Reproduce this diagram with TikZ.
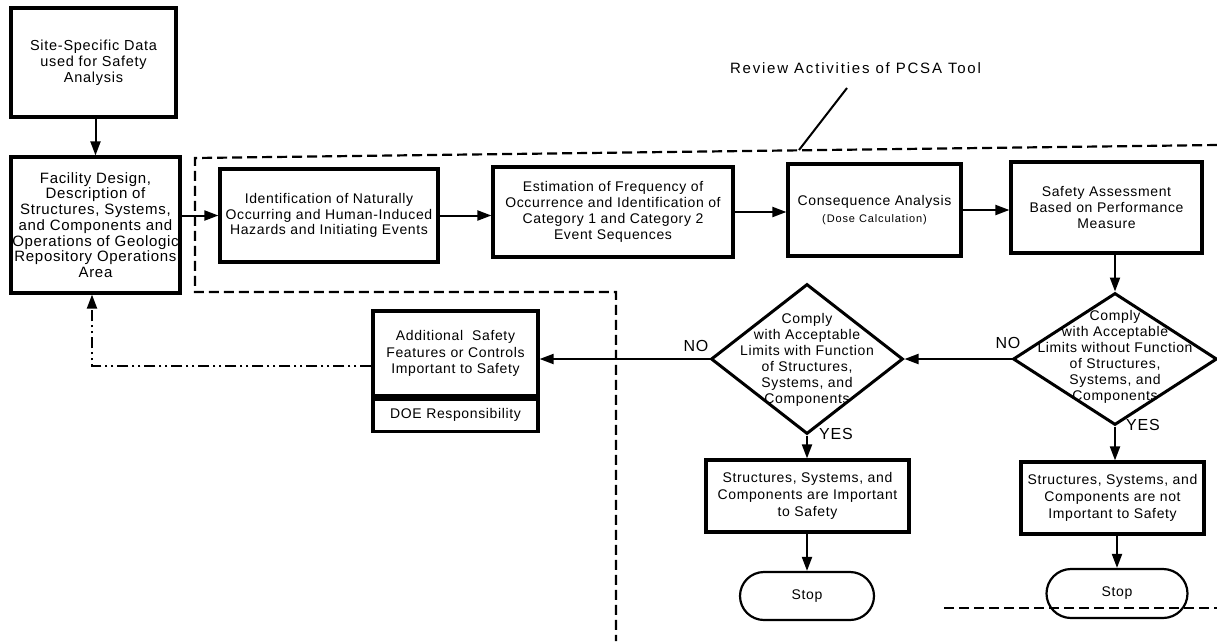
\documentclass[tikz,border=0pt]{standalone}
\usepackage{fontspec}
\setmainfont{Liberation Sans}[LetterSpace=4.5]
\usetikzlibrary{arrows.meta,shapes.geometric,shapes.misc}

\begin{document}
\begin{tikzpicture}[x=1pt,y=-1pt,
  every node/.style={font=\fontsize{14}{16}\selectfont, align=center, inner sep=1pt},
  box/.style={draw, line width=3.2pt, rectangle},
  decision/.style={draw, line width=3pt, diamond, inner sep=0pt},
  terminal/.style={draw, line width=2.2pt, rounded rectangle},
  tag/.style={font=\fontsize{16}{18}\selectfont\addfontfeature{LetterSpace=5}},
  flow/.style={line width=2pt, -{Triangle[length=14pt,width=10pt]}},
  review/.style={line width=2.2pt, dash pattern=on 10pt off 5pt},
  feedback/.style={line width=2pt, dash pattern=on 11pt off 4pt on 2pt off 4pt on 2pt off 4pt,
                   -{Triangle[length=14pt,width=10pt]}}]

\useasboundingbox (0,0) rectangle (1217,641);

% boundary of the PCSA review activities
\draw[review] (1217,145) -- (195,158) -- (195,292) -- (616,292) -- (616,641);
\draw[review] (944,608) -- (1217,608);

% title and leader line
\node (title) at (855.5,68) {\fontsize{15}{18}\selectfont\addfontfeature{LetterSpace=12}Review Activities of PCSA Tool};
\coordinate (leadtop) at (847,88);
\coordinate (leadbot) at (799,150);
\draw[line width=2pt] (leadtop) -- (leadbot);

% main chain
\node[box, minimum width=165pt, minimum height=109pt,
      font=\fontsize{14.5}{16.2}\selectfont\addfontfeature{LetterSpace=5}] (site) at (93.5,62.5)
  {Site-Specific Data\\used for Safety\\Analysis};
\node[box, minimum width=169pt, minimum height=136pt,
      font=\fontsize{15}{15.7}\selectfont] (facility) at (95.5,225)
  {Facility Design,\\Description of\\Structures, Systems,\\and Components and\\Operations of Geologic\\Repository Operations\\Area};
\node[box, minimum width=218pt, minimum height=93pt,
      font=\fontsize{14}{15.6}\selectfont] (hazard) at (329,215.5)
  {Identification of Naturally\\Occurring and Human-Induced\\Hazards and Initiating Events};
\node[box, minimum width=240pt, minimum height=90pt] (estim) at (613,212)
  {Estimation of Frequency of\\Occurrence and Identification of\\Category 1 and Category 2\\Event Sequences};
\node[box, minimum width=173pt, minimum height=92pt] (conseq) at (874.5,210)
  {Consequence Analysis\\[0.6pt]{\fontsize{11}{13}\selectfont\addfontfeature{LetterSpace=8}(Dose Calculation)}};
\node[box, minimum width=191pt, minimum height=91pt] (safety) at (1106.5,207.5)
  {Safety Assessment\\Based on Performance\\Measure};

% decisions
\node[decision, minimum width=204pt, minimum height=132pt] (dR) at (1115,359) {};
\node[font=\fontsize{14}{16}\selectfont] (dRtext) at (1115,357)
  {Comply\\with Acceptable\\Limits without Function\\of Structures,\\Systems, and\\Components};
\node[decision, minimum width=192pt, minimum height=150pt] (dL) at (807,359) {};
\node[font=\fontsize{14}{16}\selectfont] (dLtext) at (807,360)
  {Comply\\with Acceptable\\Limits with Function\\of Structures,\\Systems, and\\Components};

% additional safety features
\node[box, minimum width=165pt, minimum height=85pt,
      font=\fontsize{14}{16.6}\selectfont] (addl) at (455.5,353.5)
  {Additional\ \ Safety\\Features or Controls\\Important to Safety};
\node[box, minimum width=165pt, minimum height=32pt, anchor=north] (doe) at (addl.south)
  {DOE Responsibility};

% outcomes
\node[box, minimum width=203pt, minimum height=72pt,
      font=\fontsize{14}{17}\selectfont] (boxL) at (807.5,496)
  {Structures, Systems, and\\Components are Important\\to Safety};
\node[box, minimum width=183pt, minimum height=72pt,
      font=\fontsize{14}{17}\selectfont] (boxR) at (1112.5,498)
  {Structures, Systems, and\\Components are not\\Important to Safety};
\node[terminal, minimum width=136pt, minimum height=48pt] (stopL) at (807,596) {Stop};
\node[terminal, minimum width=143pt, minimum height=49pt] (stopR) at (1117,593.5) {Stop};

% connectors
\draw[flow] (facility.north |- site.south) -- (facility.north);
\draw[flow] (facility.east |- hazard.west) -- (hazard.west);
\draw[flow] (hazard.east) -- (hazard.east -| estim.west);
\draw[flow] (estim.east) -- (estim.east -| conseq.west);
\draw[flow] (conseq.east) -- (conseq.east -| safety.west);
\draw[flow] (dR.north |- safety.south) -- (dR.north);
\draw[flow] (dR.west) -- (dL.east);
\draw[flow] (dL.west) -- (addl.east |- dL.west);
\draw[flow] (dL.south) -- (dL.south |- boxL.north);
\draw[flow] (dL.south |- boxL.south) -- (dL.south |- stopL.north);
\draw[flow] (dR.south) -- (dR.south |- boxR.north);
\draw[flow] (stopR.north |- boxR.south) -- (stopR.north);

\coordinate (ret) at (92,366);
\draw[feedback] (addl.west |- ret) -- (ret) -- (ret |- facility.south);

% branch labels
\node[tag] (noL) at (696,346) {NO};
\node[tag] (noR) at (1008,343) {NO};
\node[tag] (yesL) at (836,434) {YES};
\node[tag] (yesR) at (1143,425) {YES};

\end{tikzpicture}
\end{document}
